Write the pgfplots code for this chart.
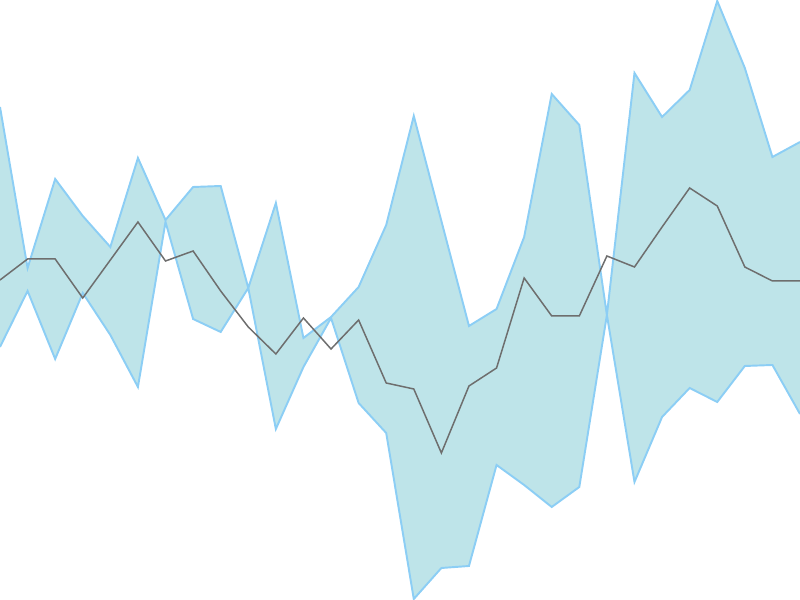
\documentclass[border=0pt]{standalone}
\usepackage{pgfplots}
\pgfplotsset{compat=1.18}
\usepgfplotslibrary{fillbetween}
\definecolor{bandfill}{RGB}{190,228,233}
\definecolor{bandedge}{RGB}{140,206,245}
\definecolor{midline}{RGB}{110,110,110}
\begin{document}
\begin{tikzpicture}
\begin{axis}[
    width=16cm, height=12cm,
    scale only axis,
    hide axis,
    xmin=0, xmax=29,
    ymin=0, ymax=600,
]
% values are 600 minus the pixel row of the reference
\addplot[name path=upper, draw=none] coordinates {
    (0,493) (1,332) (2,421) (3,384) (4,353) (5,442) (6,380) (7,413)
    (8,414) (9,312) (10,397) (11,262) (12,283) (13,313) (14,375) (15,484)
    (16,379) (17,274) (18,291) (19,363) (20,506) (21,475) (22,285) (23,527)
    (24,483) (25,510) (26,599) (27,532) (28,443) (29,458)
};
\addplot[name path=lower, draw=none] coordinates {
    (0,253) (1,309) (2,241) (3,307) (4,265) (5,213) (6,378) (7,281)
    (8,268) (9,312) (10,171) (11,233) (12,282) (13,197) (14,167) (15,1)
    (16,32) (17,34) (18,135) (19,115) (20,93) (21,113) (22,285) (23,118)
    (24,183) (25,212) (26,198) (27,234) (28,235) (29,186)
};
\addplot[bandfill, draw=none] fill between[of=upper and lower];
\addplot[bandedge, line width=1.1pt] coordinates {
    (0,493) (1,332) (2,421) (3,384) (4,353) (5,442) (6,380) (7,413)
    (8,414) (9,312) (10,397) (11,262) (12,283) (13,313) (14,375) (15,484)
    (16,379) (17,274) (18,291) (19,363) (20,506) (21,475) (22,285) (23,527)
    (24,483) (25,510) (26,599) (27,532) (28,443) (29,458)
};
\addplot[bandedge, line width=1.1pt] coordinates {
    (0,253) (1,309) (2,241) (3,307) (4,265) (5,213) (6,378) (7,281)
    (8,268) (9,312) (10,171) (11,233) (12,282) (13,197) (14,167) (15,1)
    (16,32) (17,34) (18,135) (19,115) (20,93) (21,113) (22,285) (23,118)
    (24,183) (25,212) (26,198) (27,234) (28,235) (29,186)
};
\addplot[midline, line width=0.85pt] coordinates {
    (0,320) (1,341) (2,341) (3,302) (4,340) (5,378) (6,339) (7,349)
    (8,309) (9,273) (10,246) (11,282) (12,251) (13,280) (14,217) (15,211)
    (16,147) (17,214) (18,232) (19,322) (20,284) (21,284) (22,344) (23,333)
    (24,373) (25,412) (26,394) (27,333) (28,319) (29,319)
};
\path (rel axis cs:0,0) rectangle (rel axis cs:1,1);
\end{axis}
\end{tikzpicture}
\end{document}
